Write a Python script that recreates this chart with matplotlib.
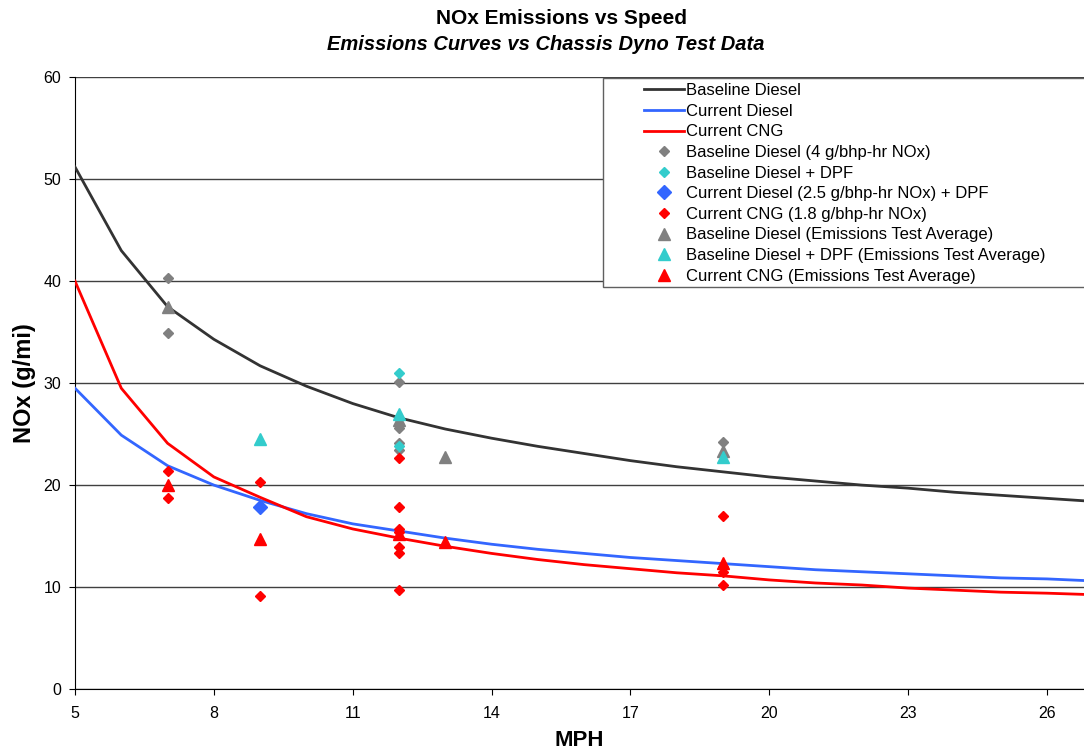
#!/usr/bin/env python
# -*- coding: UTF-8 -*-
'''
	NOx emissions vs speed: emission curves against chassis dyno test points
'''
import numpy as np
import matplotlib
matplotlib.use('Agg')
import matplotlib.pyplot as plt
from matplotlib.patches import Rectangle
#########################

img_out_plot = "out.png"
plt.rcParams['font.family'] = ['Liberation Sans', 'DejaVu Sans']
#########################

# emission curves (g/mi) at each speed (mph)
SPEED = [5, 6, 7, 8, 9, 10, 11, 12, 13, 14, 15, 16, 17, 18, 19, 20, 21, 22, 23, 24, 25, 26, 27]
BASELINE_DIESEL = [51.2, 43.0, 37.5, 34.3, 31.7, 29.7, 28.0, 26.6, 25.5, 24.6, 23.8, 23.1,
                   22.4, 21.8, 21.3, 20.8, 20.4, 20.0, 19.7, 19.3, 19.0, 18.7, 18.4]
CURRENT_DIESEL = [29.5, 24.9, 21.9, 20.0, 18.5, 17.2, 16.2, 15.5, 14.8, 14.2, 13.7, 13.3,
                  12.9, 12.6, 12.3, 12.0, 11.7, 11.5, 11.3, 11.1, 10.9, 10.8, 10.6]
CURRENT_CNG = [40.0, 29.5, 24.1, 20.8, 18.8, 16.9, 15.7, 14.8, 14.0, 13.3, 12.7, 12.2,
               11.8, 11.4, 11.1, 10.7, 10.4, 10.2, 9.9, 9.7, 9.5, 9.4, 9.25]

# chassis dyno test points
BD_X = [7, 7, 12, 12, 12, 12, 19]
BD_Y = [40.3, 34.9, 30.1, 25.6, 24.1, 23.4, 24.2]
BD_DPF_X = [12, 12]
BD_DPF_Y = [31.0, 23.8]
CD_DPF_X = [9]
CD_DPF_Y = [17.9]
CNG_X = [7, 7, 9, 9, 12, 12, 12, 12, 12, 12, 12, 19, 19, 19, 19]
CNG_Y = [21.4, 18.7, 20.3, 9.1, 22.7, 17.9, 15.7, 15.4, 13.9, 13.3, 9.7, 17.0, 12.0, 11.5, 10.2]

# emissions test averages
BD_AVG_X = [7, 12, 13, 19]
BD_AVG_Y = [37.5, 26.4, 22.8, 23.3]
BD_DPF_AVG_X = [9, 12, 19]
BD_DPF_AVG_Y = [24.5, 27.0, 22.8]
CNG_AVG_X = [7, 9, 12, 13, 19]
CNG_AVG_Y = [20.0, 14.7, 15.2, 14.4, 12.4]

X_TICKS = [5, 8, 11, 14, 17, 20, 23, 26]
Y_TICKS = [0, 10, 20, 30, 40, 50, 60]


def plot_nox():
	fig = plt.figure(figsize=(10.84, 7.5), dpi=100)
	ax = fig.add_axes([0.0692, 0.0813, 0.9308, 0.8157])

	x = np.array(SPEED)
	ax.plot(x, BASELINE_DIESEL, color='#333333', lw=2, label='Baseline Diesel', zorder=3)
	ax.plot(x, CURRENT_DIESEL, color='#3366FF', lw=2, label='Current Diesel', zorder=3)
	ax.plot(x, CURRENT_CNG, color='#FF0000', lw=2, label='Current CNG', zorder=3)

	ax.plot(BD_X, BD_Y, 'D', color='#808080', ms=5.5, ls='none',
		label='Baseline Diesel (4 g/bhp-hr NOx)', zorder=4)
	ax.plot(BD_DPF_X, BD_DPF_Y, 'D', color='#33CCCC', ms=5.5, ls='none',
		label='Baseline Diesel + DPF', zorder=4)
	ax.plot(CD_DPF_X, CD_DPF_Y, 'D', color='#3366FF', ms=7, ls='none',
		label='Current Diesel (2.5 g/bhp-hr NOx) + DPF', zorder=4)
	ax.plot(CNG_X, CNG_Y, 'D', color='#FF0000', ms=5.5, ls='none',
		label='Current CNG (1.8 g/bhp-hr NOx)', zorder=4)
	ax.plot(BD_AVG_X, BD_AVG_Y, '^', color='#808080', ms=9, ls='none',
		label='Baseline Diesel (Emissions Test Average)', zorder=5)
	ax.plot(BD_DPF_AVG_X, BD_DPF_AVG_Y, '^', color='#33CCCC', ms=9, ls='none',
		label='Baseline Diesel + DPF (Emissions Test Average)', zorder=5)
	ax.plot(CNG_AVG_X, CNG_AVG_Y, '^', color='#FF0000', ms=9, ls='none',
		label='Current CNG (Emissions Test Average)', zorder=5)

	ax.set_xlim(5, 26.8)
	ax.set_ylim(0, 60)
	ax.set_xticks(X_TICKS)
	ax.set_yticks(Y_TICKS)
	ax.tick_params(labelsize=11.5, direction='out', length=4, color='black')
	ax.tick_params(axis='x', pad=8)
	ax.tick_params(axis='y', pad=6)
	ax.yaxis.grid(True, color='#404040', lw=1)
	ax.set_axisbelow(True)
	ax.spines['right'].set_visible(False)
	ax.spines['top'].set_visible(False)
	ax.spines['left'].set_color('black')
	ax.spines['bottom'].set_color('black')

	ax.set_xlabel('MPH', fontsize=16, fontweight='bold', labelpad=7)
	ax.set_ylabel('NOx (g/mi)', fontsize=17, fontweight='bold', labelpad=5)
	fig.text(0.518, 0.976, 'NOx Emissions vs Speed', ha='center', va='center',
		fontsize=15, fontweight='bold')
	fig.text(0.503, 0.941, 'Emissions Curves vs Chassis Dyno Test Data', ha='center',
		va='center', fontsize=14.5, fontweight='bold', style='italic')

	# legend box, it runs off the right edge of the picture
	fig.patches.append(Rectangle((0.5563, 0.6173), 0.46, 0.2787, transform=fig.transFigure,
		facecolor='white', edgecolor='#606060', lw=1, zorder=10))
	leg = fig.legend(loc='upper left', bbox_to_anchor=(0.594, 0.889),
		fontsize=12, frameon=False, handlelength=2.4, handletextpad=0.15,
		labelspacing=0.335, borderaxespad=0, borderpad=0)
	leg.set_zorder(11)

	plt.savefig(img_out_plot, format='png', dpi=100)


def main():
	plot_nox()

main()
